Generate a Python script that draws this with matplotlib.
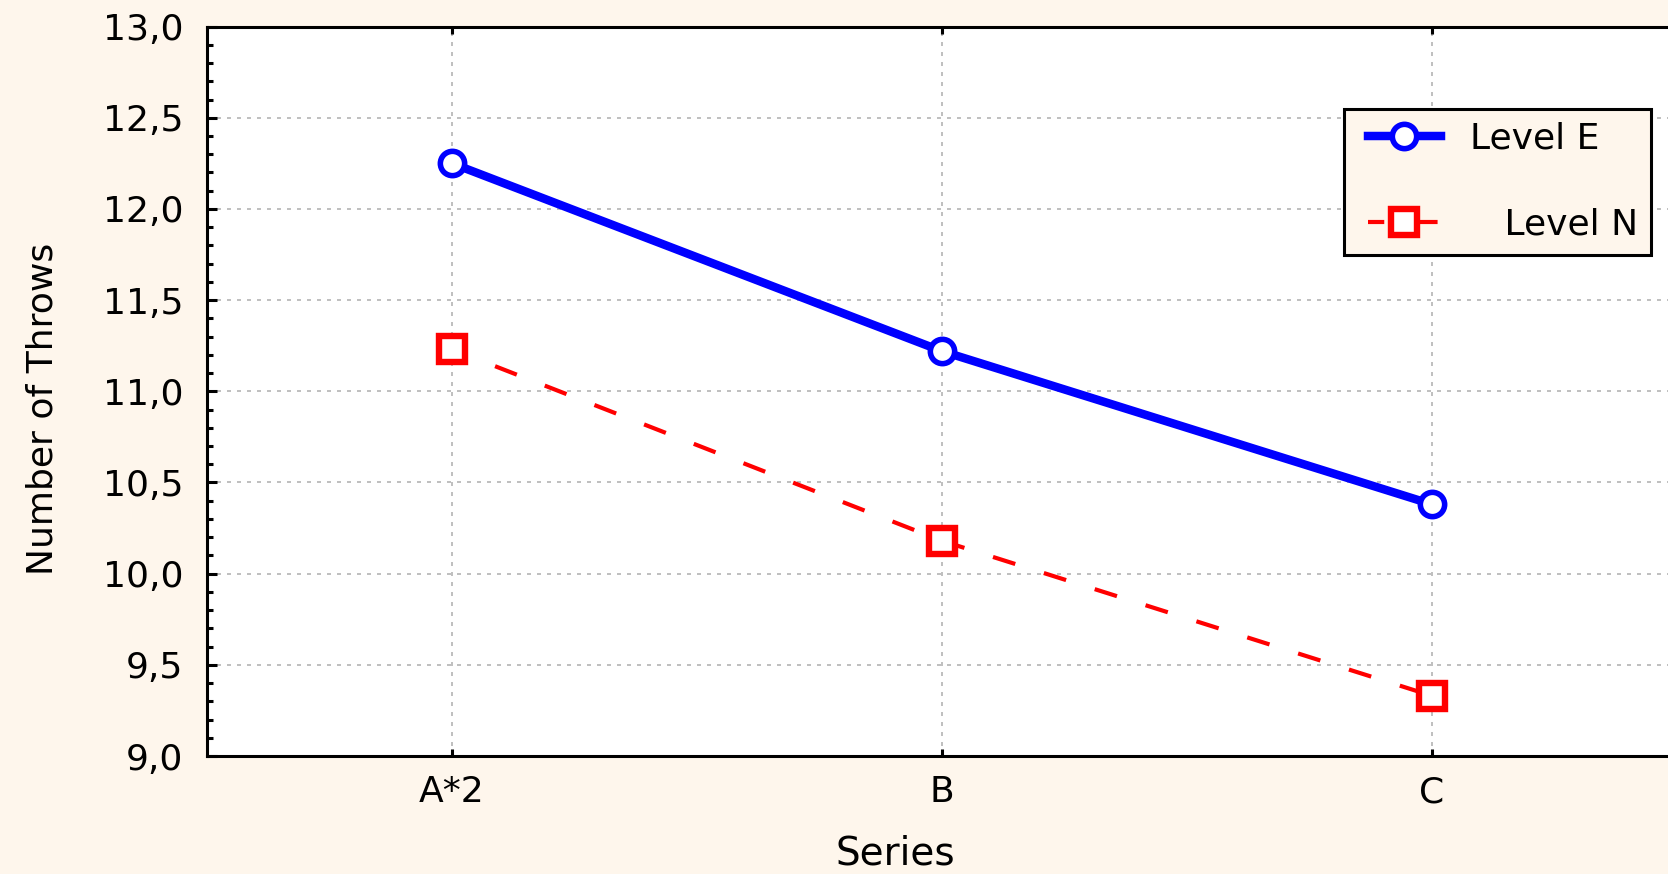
import matplotlib
matplotlib.use("Agg")
import matplotlib.pyplot as plt
import numpy as np
from matplotlib.ticker import MultipleLocator, FuncFormatter
from matplotlib.lines import Line2D
from matplotlib.legend_handler import HandlerLine2D

# --- data ---
series = ["A*2", "B", "C"]
level_e = [12.25, 11.22, 10.38]
level_n = [11.23, 10.18, 9.33]

plt.rcParams.update({
    "font.family": ["DejaVu Sans"],
    "font.size": 26,
})

bg = "#FEF6EC"
blue = "#0000FF"
red = "#FF0000"

fig = plt.figure(figsize=(16.68, 8.74), dpi=100, facecolor=bg)
# axes runs slightly past the right edge, like the original export
ax = fig.add_axes([0.1241, 0.1350, 0.8813, 0.8346])
ax.set_facecolor("white")

x_pos = np.arange(len(series))

ax.plot(x_pos, level_e, color=blue, linewidth=6.1, marker="o",
        markersize=17.5, markeredgewidth=4.0, markerfacecolor="white",
        markeredgecolor=blue, label="Level E", zorder=4)
ax.plot(x_pos, level_n, color=red, linewidth=3.0,
        linestyle=(1.7, (5.6, 7.2)), dash_capstyle="butt",
        marker="s", markersize=19, markeredgewidth=4.6,
        markerfacecolor="white", markeredgecolor=red,
        label="   Level N", zorder=3)

ax.set_xlim(-0.5, 2.5)
ax.set_ylim(9.0, 13.0)
ax.set_xticks(x_pos)
ax.set_xticklabels(series)
ax.yaxis.set_major_locator(MultipleLocator(0.5))
ax.yaxis.set_minor_locator(MultipleLocator(0.1))
ax.yaxis.set_major_formatter(FuncFormatter(lambda v, p: f"{v:.1f}".replace(".", ",")))

ax.grid(True, which="major", color="#C0C0C0", linewidth=1.44,
        linestyle=(0, (2, 3)), zorder=1)
ax.set_axisbelow(True)

for spine in ax.spines.values():
    spine.set_linewidth(2.2)
    spine.set_color("black")

ax.tick_params(axis="x", which="major", direction="in", top=True, length=5,
               width=2.2, pad=14, labelsize=26)
ax.tick_params(axis="y", which="major", direction="in", right=False, length=7.2,
               width=2.2, pad=17, labelsize=26)
ax.tick_params(axis="y", which="minor", direction="in", right=False, length=4.3,
               width=2.2)

ax.set_xlabel("Series", fontsize=28)
ax.xaxis.set_label_coords(0.468, -0.1078)
ax.set_ylabel("Number of Throws", fontsize=26)
ax.yaxis.set_label_coords(-0.1116, 0.4757)
ax.yaxis.label.set_verticalalignment("center")

leg = ax.legend(loc="upper left", bbox_to_anchor=(0.8058, 0.8753),
                bbox_transform=fig.transFigure, borderaxespad=0,
                handler_map={Line2D: HandlerLine2D(numpoints=1, xpad=0.3)},
                fontsize=26, handlelength=2.33,
                handletextpad=0.8, labelspacing=1.45, borderpad=0.35,
                frameon=True, fancybox=False, framealpha=1.0,
                facecolor=bg, edgecolor="black")
leg.get_frame().set_linewidth(2.2)

fig.savefig("out.png", dpi=100, facecolor=bg)
